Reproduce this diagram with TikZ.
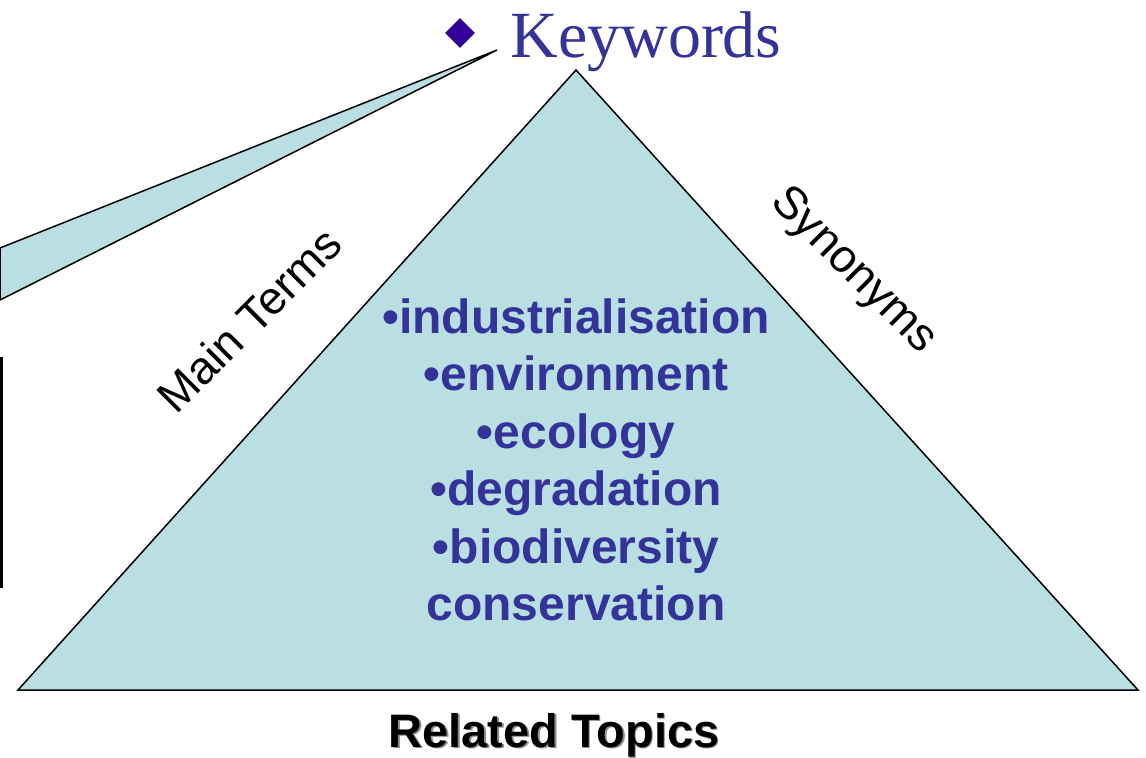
\documentclass[tikz,border=0pt]{standalone}
\usepackage{fontspec}
\setmainfont{Liberation Serif}
\setsansfont{Liberation Sans}
\usepackage{tikz}
\usetikzlibrary{shapes.geometric}
\definecolor{topicblue}{RGB}{51,51,153}
\definecolor{pyrfill}{RGB}{186,223,226}
\definecolor{bulletblue}{RGB}{51,0,153}
\tikzset{
  side/.style={font=\sffamily\fontsize{23}{26}\selectfont, inner sep=0.75pt},
  term/.style={font=\sffamily\bfseries\fontsize{24}{27}\selectfont, text=topicblue, anchor=base, inner sep=0.75pt},
}

\begin{document}
\begin{tikzpicture}[x=0.5pt,y=-0.5pt]
\useasboundingbox (0,0) rectangle (1146,757);
% callout wedge and stray line
\draw [fill=pyrfill, line width=0.75pt] (497,50) -- (0,248) -- (0,300) -- cycle ;
\draw [line width=1.5pt] (1,357) -- (1,588) ;
% pyramid
\draw [fill=pyrfill, line width=0.75pt] (576,70) -- (18,690) -- (1138,690) -- cycle ;
% heading
\node (dot) [diamond, fill=bulletblue, inner sep=0pt, minimum size=30*0.5pt] at (460,33) {};
\node (kw) [anchor=base west, inner sep=0pt, text=topicblue, font=\fontsize{33}{36}\selectfont] at (510,57) {Keywords};
% sides
\node (main) [side, rotate=45] at (249,320) {Main Terms};
\node (syn) [side, rotate=-45] at (853,271) {Synonyms};
% list
\foreach \w [count=\i from 0] in {\textbullet industrialisation, \textbullet environment, \textbullet ecology, \textbullet degradation, \textbullet biodiversity, conservation}
  \node (t\i) [term] at (576,333+57.5*\i) {\w};
% base label
\node (relsh) [anchor=base, inner sep=0pt, text=black!45, font=\sffamily\bfseries\fontsize{23.5}{26}\selectfont] at (555.5,748.5) {Related Topics};
\node (rel) [anchor=base, inner sep=0pt, font=\sffamily\bfseries\fontsize{23.5}{26}\selectfont] at (554,747) {Related Topics};
\end{tikzpicture}
\end{document}
